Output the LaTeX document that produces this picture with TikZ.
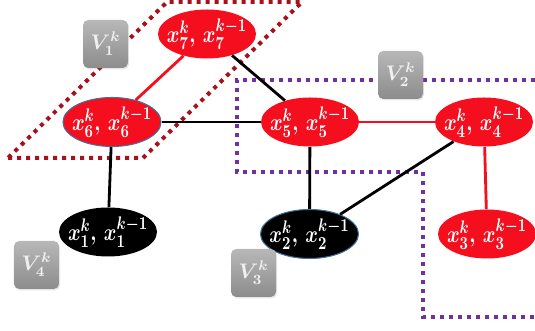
\documentclass[tikz,border=0pt]{standalone}
\usepackage{amsmath}
\usepackage{bm}
\usepackage{graphicx}
\usetikzlibrary{shapes,shadows}
\DeclareMathSizes{14}{14}{11}{8}
\definecolor{nodered}{RGB}{244,14,30}
\definecolor{dotred}{RGB}{168,16,28}
\definecolor{dotpurple}{RGB}{112,48,160}
\definecolor{rimblue}{RGB}{65,113,156}
\newcommand{\varpair}[1]{\resizebox*{1.6cm}{0.62cm}{$x_{#1}^k,\,x_{#1}^{k-1}$}}
\tikzset{
         var/.style=
          {
           ellipse,
           minimum width=1.96cm,
           minimum height=0.98cm,
           inner sep=-0.5cm,
           text=white,
           font=\fontsize{14}{16}\selectfont\boldmath
          },
         redvar/.style={var,fill=nodered},
         blackvar/.style={var,fill=black},
         rim/.style={draw=rimblue,line width=0.6pt},
         agent/.style=
          {
           rounded corners=3pt,
           minimum width=0.9cm,
           minimum height=0.96cm,
           inner sep=0pt,
           top color=black!28,
           bottom color=black!45,
           text=black!6,
           font=\large\boldmath,
           drop shadow={opacity=0.2,shadow xshift=0.6pt,shadow yshift=-0.8pt}
          },
         link/.style={line width=1.6pt},
         redlink/.style={line width=1.6pt,draw=nodered},
         area/.style={line width=0.08cm,dash pattern=on 0.08cm off 0.1cm}
        }
\begin{document}
\begin{tikzpicture}
\useasboundingbox (0,0) rectangle (10.7,6.62);
\draw[area,dotred] (0.16,3.46)--(2.86,3.46)--(6.04,6.58)--(3.34,6.58)--cycle; % red area
\draw[area,dotpurple] (10.7,5.02)--(4.74,5.02)--(4.74,3.18)--(8.46,3.18)--(8.46,0.28)--(10.7,0.28); % purple area
\node[redvar] (x7) at (4.14,5.94) {\varpair{7}}; % x7
\node[redvar,rim] (x6) at (2.24,4.18) {\varpair{6}}; % x6
\node[redvar] (x5) at (6.20,4.18) {\varpair{5}}; % x5
\node[redvar] (x4) at (9.68,4.18) {\varpair{4}}; % x4
\node[blackvar] (x1) at (2.16,1.98) {\varpair{1}}; % x1
\node[blackvar,rim] (x2) at (6.19,1.94) {\varpair{2}}; % x2
\node[redvar] (x3) at (9.74,1.94) {\varpair{3}}; % x3
\node[agent] (v1) at (2.11,5.74) {$V_1^k$}; % V1
\node[agent] (v2) at (8.01,5.12) {$V_2^k$}; % V2
\node[agent] (v3) at (5.07,1.16) {$V_3^k$}; % V3
\node[agent] (v4) at (0.73,1.32) {$V_4^k$}; % V4
\draw[redlink] (x7)--(x6); % links
\draw[link] (x7)--(x5);
\draw[link] (x6)--(x5);
\draw[redlink] (x5)--(x4);
\draw[link] (x6)--(x1);
\draw[link] (x5)--(x2);
\draw[link] (x4)--(x2);
\draw[redlink] (x4)--(x3);
\end{tikzpicture}
\end{document}
